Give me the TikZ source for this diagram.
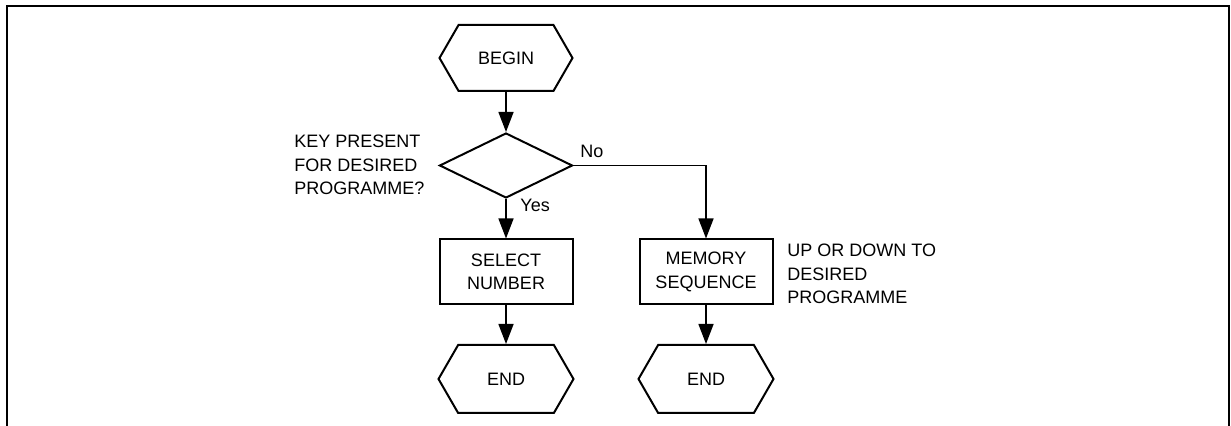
\documentclass[tikz,border=0pt]{standalone}
\usepackage{fontspec}
\setmainfont{Liberation Sans}
\usetikzlibrary{shapes.symbols,shapes.geometric,arrows.meta}
\begin{document}
\begin{tikzpicture}[x=0.5pt,y=-0.5pt,
  every node/.style={font={\fontsize{9}{11.75}\selectfont}},
  hexbox/.style={draw,line width=1pt,signal,signal to=west and east,signal pointer angle=120,
    minimum width=66.5pt,minimum height=33pt,inner sep=0pt,align=center},
  procbox/.style={draw,line width=1pt,rectangle,minimum width=66.5pt,minimum height=32.5pt,inner sep=0pt,align=center},
  decbox/.style={draw,line width=1pt,diamond,aspect=2.05,minimum width=66.5pt,minimum height=32.5pt,inner sep=0pt},
  note/.style={anchor=north west,inner sep=0pt,align=left},
  lbl/.style={anchor=base west,inner sep=0pt},
  flow/.style={line width=0.7pt,-{Triangle[length=10pt,width=7.5pt]}}
]
\useasboundingbox (0,0) rectangle (1231,426);
\draw[line width=1pt] (6.7,426) -- (6.7,6) -- (1229,6) -- (1229,426);

\node[hexbox] (begin) at (506,58) {BEGIN};
\node[decbox] (dec) at (506,165.5) {};
\node[procbox] (sel) at (506,272) {SELECT\\NUMBER};
\node[procbox] (mem) at (706,272) {MEMORY\\SEQUENCE};
\node[hexbox,minimum width=67.5pt,minimum height=34pt] (end1) at (506,379) {END};
\node[hexbox,minimum width=67.5pt,minimum height=34pt] (end2) at (706,379) {END};

\node[note] (q) at (294,135) {KEY PRESENT\\FOR DESIRED\\PROGRAMME?};
\node[note] (n) at (787,244) {UP OR DOWN TO\\DESIRED\\PROGRAMME};
\node[lbl] (no) at (580,158) {No};
\node[lbl] (yes) at (520,212) {Yes};

\draw[flow] (begin.south) -- (dec.north);
\draw[flow] (dec.south) -- (sel.north);
\draw[flow] (dec.east) -| (mem.north);
\draw[flow] (sel.south) -- (end1.north);
\draw[flow] (mem.south) -- (end2.north);
\end{tikzpicture}
\end{document}
